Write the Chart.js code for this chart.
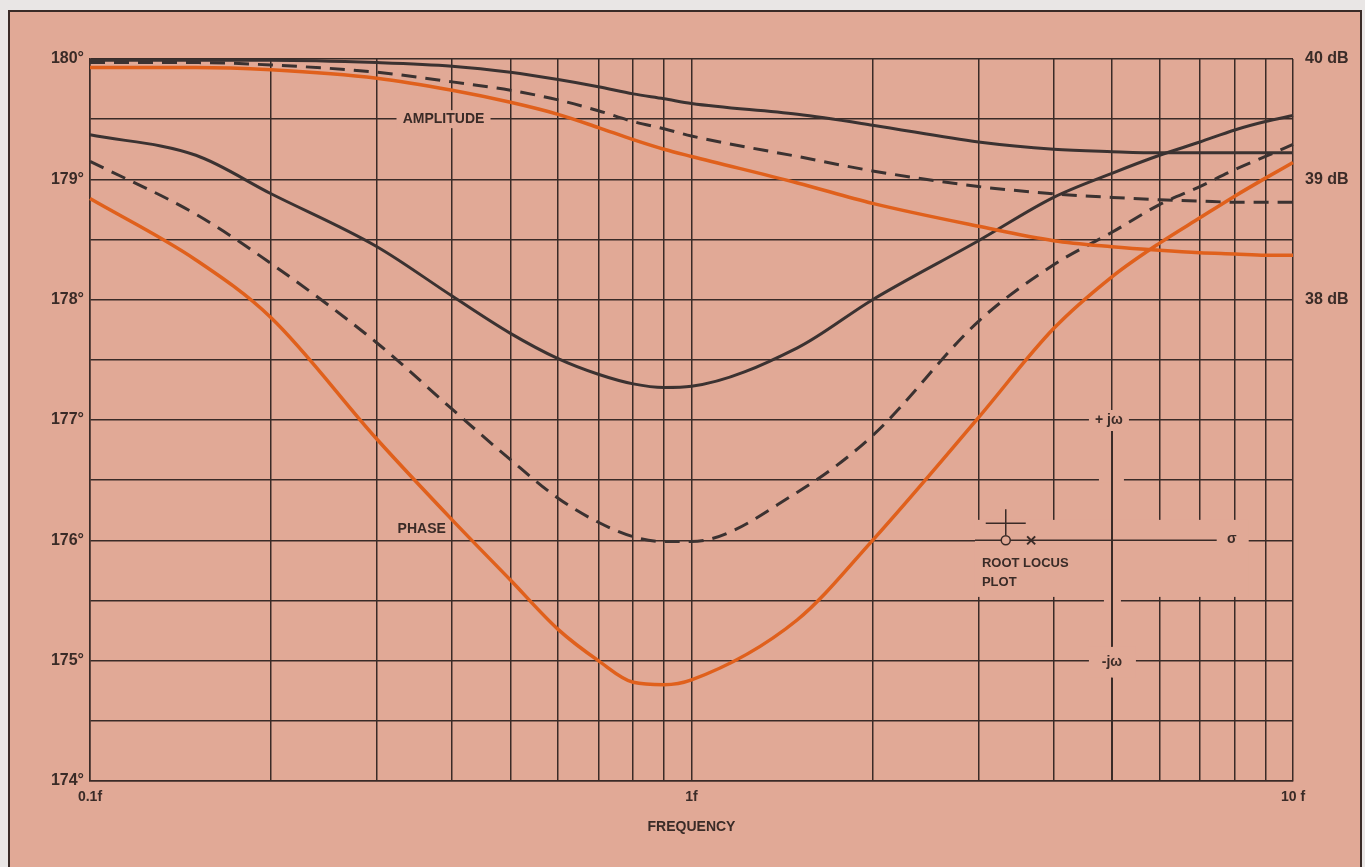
<!DOCTYPE html>
<html>
<head>
<meta charset="utf-8">
<script src="https://cdn.jsdelivr.net/npm/chart.js@4.4.1/dist/chart.umd.min.js"></script>
<style>
  html, body { margin: 0; padding: 0; background: #e9e6e5; }
  #wrap { width: 1365px; height: 867px; }
</style>
</head>
<body>
<div id="wrap"><canvas id="bode"></canvas></div>
<script>
// Frequency points, as multiples of f
const freq = [0.1, 0.15, 0.2, 0.3, 0.4, 0.5, 0.6, 0.7, 0.8, 0.9, 1, 1.5, 2, 3, 4, 5, 6, 7, 8, 9, 10];

// Phase curves (degrees, left axis)
const phaseSolid  = [179.37, 179.20, 178.88, 178.44, 178.03, 177.72, 177.51, 177.38, 177.30, 177.27, 177.28, 177.60, 178.00, 178.49, 178.85, 179.05, 179.20, 179.31, 179.41, 179.48, 179.53];
const phaseDashed = [179.15, 178.71, 178.30, 177.64, 177.09, 176.67, 176.35, 176.15, 176.03, 175.99, 175.99, 176.40, 176.87, 177.82, 178.29, 178.56, 178.79, 178.94, 179.08, 179.19, 179.29];
const phaseOrange = [178.84, 178.33, 177.85, 176.84, 176.17, 175.67, 175.26, 175.00, 174.82, 174.80, 174.84, 175.34, 176.00, 177.02, 177.76, 178.19, 178.47, 178.68, 178.86, 179.01, 179.14];

// Amplitude curves (dB, right axis)
const ampSolid  = [39.99, 39.99, 39.99, 39.97, 39.94, 39.89, 39.83, 39.77, 39.71, 39.67, 39.63, 39.54, 39.45, 39.31, 39.25, 39.23, 39.22, 39.22, 39.22, 39.22, 39.22];
const ampDashed = [39.97, 39.97, 39.95, 39.89, 39.81, 39.74, 39.66, 39.57, 39.48, 39.42, 39.36, 39.19, 39.07, 38.94, 38.88, 38.85, 38.83, 38.82, 38.81, 38.81, 38.81];
const ampOrange = [39.93, 39.93, 39.91, 39.84, 39.74, 39.64, 39.54, 39.43, 39.33, 39.25, 39.19, 38.97, 38.80, 38.61, 38.49, 38.44, 38.41, 38.39, 38.38, 38.37, 38.37];

// Tick labels
const xTicks = [0.1, 0.2, 0.3, 0.4, 0.5, 0.6, 0.7, 0.8, 0.9, 1, 2, 3, 4, 5, 6, 7, 8, 9, 10];
const xTickLabels = { 0.1: '0.1f', 1: '1f', 10: '10 f' };
const dbTicks = [38, 39, 40];

const paper = '#e1a996';
const ink = '#3a2b27';
const curveDark = '#3b3231';
const curveOrange = '#e0601c';
const fontFamily = '"Liberation Sans", Arial, sans-serif';

const backdrop = {
    id: 'backdrop',
    beforeDraw(chart) {
        const ctx = chart.ctx;
        ctx.save();
        ctx.fillStyle = '#e9e6e5';
        ctx.fillRect(0, 0, chart.width, chart.height);
        ctx.fillStyle = paper;
        ctx.fillRect(8, 10, 1354, chart.height);
        ctx.strokeStyle = ink;
        ctx.lineWidth = 2;
        ctx.beginPath();
        ctx.moveTo(9, chart.height);
        ctx.lineTo(9, 11);
        ctx.lineTo(1361, 11);
        ctx.lineTo(1361, chart.height);
        ctx.stroke();
        ctx.restore();
    }
};

// Labels and the little root locus sketch drawn onto the grid
const notes = {
    id: 'notes',
    beforeDatasetsDraw(chart) {
        const { ctx, scales: { x, y } } = chart;
        const X = v => x.getPixelForValue(v);
        const Y = v => y.getPixelForValue(v);
        const blank = (x0, y0, x1, y1) => { ctx.fillStyle = paper; ctx.fillRect(x0, y0, x1 - x0, y1 - y0); };
        const line = (x0, y0, x1, y1) => { ctx.beginPath(); ctx.moveTo(x0, y0); ctx.lineTo(x1, y1); ctx.stroke(); };
        const text = (s, px, py, align) => {
            ctx.fillStyle = ink;
            ctx.textAlign = align || 'center';
            ctx.fillText(s, px, py);
        };
        ctx.save();
        ctx.strokeStyle = ink;
        ctx.lineWidth = 1.5;
        ctx.textBaseline = 'middle';
        ctx.font = 'bold 14px ' + fontFamily;

        // AMPLITUDE sits in a gap of the 179.5 line
        const ax = X(0.387), ay = Y(179.5);
        blank(ax - 47, ay - 9, ax + 47, ay + 9);
        text('AMPLITUDE', ax, ay);
        text('PHASE', X(0.356), Y(176.09));

        // root locus sketch: clear the grid round the sigma axis
        const jx = X(5), sy = Y(176);
        const x0 = X(2.96), x1 = X(8) + 14;
        blank(x0, Y(176.17), x1, Y(175.53));
        line(x0, sy, X(8) - 18, sy);
        text('\u03c3', X(8) - 3, sy - 1);

        // +jw and -jw on the 5f line
        blank(jx - 23, Y(177) - 10, jx + 17, Y(177) + 11);
        blank(jx - 23, Y(175) - 14, jx + 24, Y(175) + 17);
        blank(jx - 13, Y(176.5) - 2, jx + 12, Y(176.5) + 2);
        blank(jx - 8, Y(175.5) - 2, jx + 9, Y(175.5) + 2);
        text('+ j\u03c9', jx - 3, Y(177));
        text('-j\u03c9', jx, Y(175) + 1);

        // j-omega axis
        ctx.lineWidth = 2;
        const ja = Math.round(jx);
        line(ja, Y(177) + 11, ja, Y(175) - 14);
        line(ja, Y(175) + 17, ja, Y(174));

        // pole / zero marks
        ctx.lineWidth = 1.5;
        const cx = X(3.33), px = X(3.67);
        line(cx, sy - 31, cx, sy - 5);
        line(cx - 20, sy - 17, cx + 20, sy - 17);
        ctx.beginPath();
        ctx.arc(cx, sy, 4.5, 0, Math.PI * 2);
        ctx.fillStyle = paper;
        ctx.fill();
        ctx.stroke();
        ctx.lineWidth = 2;
        line(px - 4, sy - 4, px + 4, sy + 4);
        line(px - 4, sy + 4, px + 4, sy - 4);

        ctx.font = 'bold 13px ' + fontFamily;
        text('ROOT LOCUS', X(3.04), Y(175.81), 'left');
        text('PLOT', X(3.04), Y(175.65), 'left');
        ctx.restore();
    }
};

const points = (vals) => freq.map((f, i) => ({ x: f, y: vals[i] }));

const curve = (vals, axis, color, dash, width) => ({
    data: points(vals),
    yAxisID: axis,
    borderColor: color,
    borderWidth: width,
    borderDash: dash,
    pointRadius: 0,
    cubicInterpolationMode: 'monotone',
    fill: false,
    clip: false
});

new Chart(document.getElementById('bode').getContext('2d'), {
    type: 'line',
    data: {
        datasets: [
            curve(ampSolid, 'yR', curveDark, [], 3),
            curve(ampDashed, 'yR', curveDark, [15, 9], 3),
            curve(ampOrange, 'yR', curveOrange, [], 3.5),
            curve(phaseSolid, 'y', curveDark, [], 3),
            curve(phaseDashed, 'y', curveDark, [15, 9], 3),
            curve(phaseOrange, 'y', curveOrange, [], 3.5)
        ]
    },
    options: {
        responsive: true,
        maintainAspectRatio: false,
        animation: false,
        layout: { padding: { top: 59, left: 0, right: 0, bottom: 0 } },
        plugins: {
            legend: { display: false },
            tooltip: { enabled: false }
        },
        scales: {
            x: {
                type: 'logarithmic',
                min: 0.1,
                max: 10,
                afterBuildTicks: (scale) => { scale.ticks = xTicks.map(v => ({ value: v })); },
                afterFit: (scale) => { scale.height = 86; },
                grid: { color: ink, lineWidth: 1.5, drawTicks: false },
                border: { color: ink, width: 1.5 },
                ticks: {
                    autoSkip: false,
                    maxRotation: 0,
                    padding: 8,
                    color: ink,
                    font: { family: fontFamily, size: 14, weight: 'bold' },
                    callback: (v) => xTickLabels[v] || ''
                },
                title: {
                    display: true,
                    text: 'FREQUENCY',
                    color: ink,
                    font: { family: fontFamily, size: 14, weight: 'bold' },
                    padding: { top: 4, bottom: 31 }
                }
            },
            y: {
                position: 'left',
                min: 174,
                max: 180,
                afterFit: (scale) => { scale.width = 90; },
                grid: { color: ink, lineWidth: 1.5, drawTicks: false },
                border: { color: ink, width: 1.5 },
                ticks: {
                    stepSize: 0.5,
                    padding: 6,
                    color: ink,
                    font: { family: fontFamily, size: 16, weight: 'bold' },
                    callback: (v) => Number.isInteger(v) ? v + '\u00b0' : ''
                }
            },
            yR: {
                position: 'right',
                min: 34,
                max: 40,
                afterBuildTicks: (scale) => { scale.ticks = dbTicks.map(v => ({ value: v })); },
                afterFit: (scale) => { scale.width = 72; },
                grid: { display: false, drawTicks: false },
                border: { display: false },
                ticks: {
                    padding: 12,
                    color: ink,
                    font: { family: fontFamily, size: 16, weight: 'bold' },
                    callback: (v) => v + ' dB'
                }
            }
        }
    },
    plugins: [backdrop, notes]
});
</script>
</body>
</html>
